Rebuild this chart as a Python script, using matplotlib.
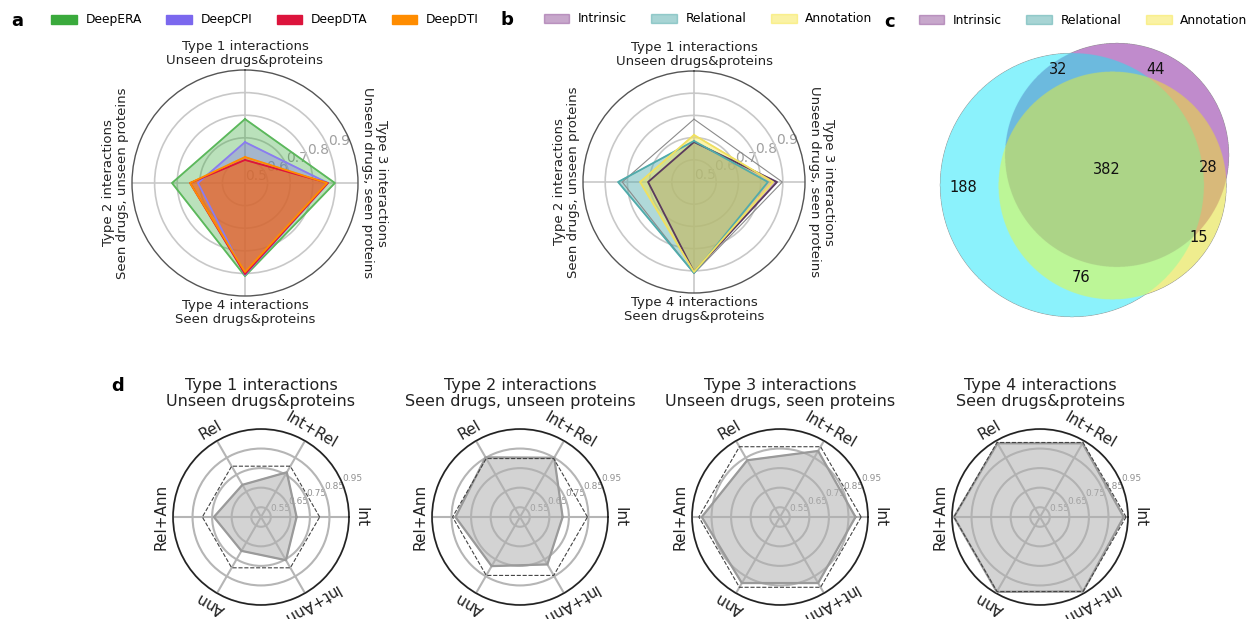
import numpy as np
import matplotlib.pyplot as plt
from matplotlib.patches import Patch

plt.rcParams['font.family'] = 'DejaVu Sans'

#DATA========================================================================
# panels a/b: interaction types, clockwise from the top
types = ['Type 1 interactions\nUnseen drugs&proteins',
         'Type 3 interactions\nUnseen drugs, seen proteins',
         'Type 4 interactions\nSeen drugs&proteins',
         'Type 2 interactions\nSeen drugs, unseen proteins']

deepera = [0.783, 0.898, 0.912, 0.823]
deepcpi = [0.681, 0.867, 0.907, 0.708]
deepdta = [0.602, 0.867, 0.903, 0.743]
deepdti = [0.615, 0.863, 0.894, 0.743]

intrinsic = [0.680, 0.874, 0.905, 0.707]
relational = [0.685, 0.833, 0.910, 0.842]
annotation = [0.712, 0.856, 0.905, 0.743]

# panel c: venn counts
venn_regions = ['Rel', 'Int', 'Ann', 'Int&Rel', 'Rel&Ann', 'Int&Ann', 'Int&Rel&Ann']
venn_counts = [188, 44, 15, 32, 76, 28, 382]

# panel d
combos = ['Int', 'Int+Rel', 'Rel', 'Rel+Ann', 'Ann', 'Int+Ann']
d_titles = ['Type 1 interactions\nUnseen drugs&proteins',
            'Type 2 interactions\nSeen drugs, unseen proteins',
            'Type 3 interactions\nUnseen drugs, seen proteins',
            'Type 4 interactions\nSeen drugs&proteins']
d_type1 = [0.682, 0.764, 0.690, 0.741, 0.700, 0.755]
d_type2 = [0.718, 0.850, 0.852, 0.830, 0.790, 0.780]
d_type3 = [0.886, 0.890, 0.835, 0.900, 0.890, 0.890]
d_type4 = [0.928, 0.935, 0.935, 0.940, 0.942, 0.940]
d_ref = [0.800, 0.845, 0.915, 0.940]
#DATA========================================================================

W, H = 1250, 619
fig = plt.figure(figsize=(12.5, 6.19), dpi=100)


def px_rect(cx, cy, r):
    return [(cx - r) / W, 1 - (cy + r) / H, 2 * r / W, 2 * r / H]


def radar_ab(cx, cy, r, series, colors, edges, fills, extra=None):
    ax = fig.add_axes(px_rect(cx, cy, r), projection='polar')
    ax.set_theta_offset(np.pi / 2)
    ax.set_theta_direction(-1)
    ang = np.arange(len(types)) * 2 * np.pi / len(types)
    closed = np.append(ang, ang[0])
    if extra is not None:
        ax.plot(closed, np.append(extra, extra[0]), color='#8a8a8a', lw=0.8, zorder=3)
    for vals, c, e, fa in zip(series, colors, edges, fills):
        v = np.append(vals, vals[0])
        ax.fill(closed, v, color=c, alpha=fa, zorder=2)
        ax.plot(closed, v, color=e, lw=1.3, zorder=3)
    ax.set_ylim(0.5, 1.0)
    ax.set_yticks([0.5, 0.6, 0.7, 0.8, 0.9])
    ax.set_yticklabels(['0.5', '0.6', '0.7', '0.8', '0.9'], fontsize=10, color='#a0a0a0')
    ax.set_rlabel_position(67)
    ax.set_xticks(ang)
    ax.set_xticklabels([])
    ax.grid(color='#c8c8c8', lw=1.2)
    ax.spines['polar'].set_color('#555555')
    ax.spines['polar'].set_linewidth(1.0)
    for a, lab in zip(ang, types):
        disp = (90 - np.rad2deg(a)) % 360
        if disp > 180:
            disp -= 360
        rot = disp - 90
        if rot < -90:
            rot += 180
        ax.text(a, 1.075, lab, rotation=rot, ha='center', va='center',
                rotation_mode='anchor', fontsize=9.5, color='#222222',
                linespacing=1.1, clip_on=False)
    return ax


# panel a
a_colors = ['#3aaa3c', '#7b68ee', '#dc143c', '#ff8c00']
radar_ab(245, 183, 113, [deepera, deepcpi, deepdta, deepdti], a_colors,
         ['#5cb85c', '#8a7cf0', '#dc143c', '#ff8c00'],
         [0.35, 0.35, 0.45, 0.45])
fig.legend([Patch(color=c) for c in a_colors],
           ['DeepERA', 'DeepCPI', 'DeepDTA', 'DeepDTI'],
           loc='center', bbox_to_anchor=(265 / W, 1 - 20 / H), ncol=4,
           frameon=False, fontsize=8.8, handlelength=2.1, handletextpad=0.7,
           columnspacing=2.0)

# panel b
b_colors = ['#915199', '#51abab', '#f7e74b']
radar_ab(694, 182, 111, [intrinsic, relational, annotation], b_colors,
         ['#5a3a5e', '#51abab', '#f0e060'], [0.5, 0.45, 0.45], extra=deepera)
fig.legend([Patch(color=c, alpha=0.5) for c in b_colors],
           ['Intrinsic', 'Relational', 'Annotation'],
           loc='center', bbox_to_anchor=(708 / W, 1 - 19 / H), ncol=3,
           frameon=False, fontsize=8.8, handlelength=2.1, handletextpad=0.7,
           columnspacing=2.0)

# panel c: venn drawn as a raster of region memberships
vax = fig.add_axes([930 / W, 1 - 330 / H, 320 / W, 300 / H])
vax.set_xlim(930, 1250)
vax.set_ylim(330, 30)
vax.axis('off')
xs = np.linspace(930, 1250, 1280)
ys = np.linspace(30, 330, 1200)
X, Y = np.meshgrid(xs, ys)
inRel = (X - 1072) ** 2 + (Y - 185) ** 2 <= 132 ** 2
inInt = (X - 1117) ** 2 + (Y - 155) ** 2 <= 112 ** 2
inAnn = (X - 1112.5) ** 2 + (Y - 185.5) ** 2 <= 114 ** 2
masks = {
    'Rel': inRel & ~inInt & ~inAnn,
    'Int': inInt & ~inRel & ~inAnn,
    'Ann': inAnn & ~inRel & ~inInt,
    'Int&Rel': inInt & inRel & ~inAnn,
    'Rel&Ann': inRel & inAnn & ~inInt,
    'Int&Ann': inInt & inAnn & ~inRel,
    'Int&Rel&Ann': inInt & inRel & inAnn,
}
region_colors = {'Rel': '#8bf2fc', 'Int': '#c08bcc', 'Ann': '#f0ee8e',
                 'Int&Rel': '#6cbadf', 'Rel&Ann': '#bdf697',
                 'Int&Ann': '#d8b97a', 'Int&Rel&Ann': '#acd488'}
label_pos = {'Rel': (963, 188), 'Int': (1156, 70), 'Ann': (1199, 238),
             'Int&Rel': (1058, 70), 'Rel&Ann': (1081, 277),
             'Int&Ann': (1208, 168), 'Int&Rel&Ann': (1107, 169)}
img = np.zeros(X.shape + (4,))
for reg in venn_regions:
    h = region_colors[reg].lstrip('#')
    rgb = [int(h[i:i + 2], 16) / 255 for i in (0, 2, 4)]
    img[masks[reg]] = rgb + [1.0]
vax.imshow(img, extent=(930, 1250, 330, 30), origin='upper', interpolation='antialiased')
for reg, n in zip(venn_regions, venn_counts):
    x, y = label_pos[reg]
    vax.text(x, y, str(n), ha='center', va='center', fontsize=10.5, color='#111111')
fig.legend([Patch(color=c, alpha=0.5) for c in b_colors],
           ['Intrinsic', 'Relational', 'Annotation'],
           loc='center', bbox_to_anchor=(1083 / W, 1 - 20 / H), ncol=3,
           frameon=False, fontsize=8.8, handlelength=2.1, handletextpad=0.7,
           columnspacing=2.0)

# panel d
d_vals = [d_type1, d_type2, d_type3, d_type4]
d_cx = [261, 520, 780, 1040]
ang6 = np.deg2rad(np.arange(len(combos)) * 360 / len(combos))
closed6 = np.append(ang6, ang6[0])
for cx, vals, ref, title in zip(d_cx, d_vals, d_ref, d_titles):
    ax = fig.add_axes(px_rect(cx, 517, 88), projection='polar')
    v = np.append(vals, vals[0])
    ax.fill(closed6, v, color='#b0b0b0', alpha=0.55, zorder=2)
    ax.plot(closed6, v, color='#9a9a9a', lw=1.6, zorder=3)
    ax.plot(closed6, np.full(len(closed6), ref), color='#444444', lw=0.8, ls='--', zorder=3)
    ax.set_ylim(0.5, 0.95)
    ax.set_yticks([0.55, 0.65, 0.75, 0.85, 0.95])
    ax.set_yticklabels(['0.55', '0.65', '0.75', '0.85', '0.95'], fontsize=6.5, color='#909090')
    ax.set_rlabel_position(22.5)
    ax.set_xticks(ang6)
    ax.set_xticklabels([])
    ax.grid(color='#b5b5b5', lw=1.5)
    ax.spines['polar'].set_color('#222222')
    ax.spines['polar'].set_linewidth(1.2)
    for a, lab in zip(ang6, combos):
        ax.text(a, 1.012, lab, rotation=np.rad2deg(a) - 90, ha='center', va='center',
                rotation_mode='anchor', fontsize=11, color='#222222', clip_on=False)
    ax.text(0.5, 1.115, title, transform=ax.transAxes, ha='center', va='bottom',
            fontsize=11.5, color='#222222', linespacing=1.1)

# panel letters
for letter, x, y in [('a', 17, 21), ('b', 507, 20), ('c', 890, 22), ('d', 118, 386)]:
    fig.text(x / W, 1 - y / H, letter, fontsize=13, fontweight='bold', ha='center', va='center')

fig.savefig('out.png', dpi=100)
